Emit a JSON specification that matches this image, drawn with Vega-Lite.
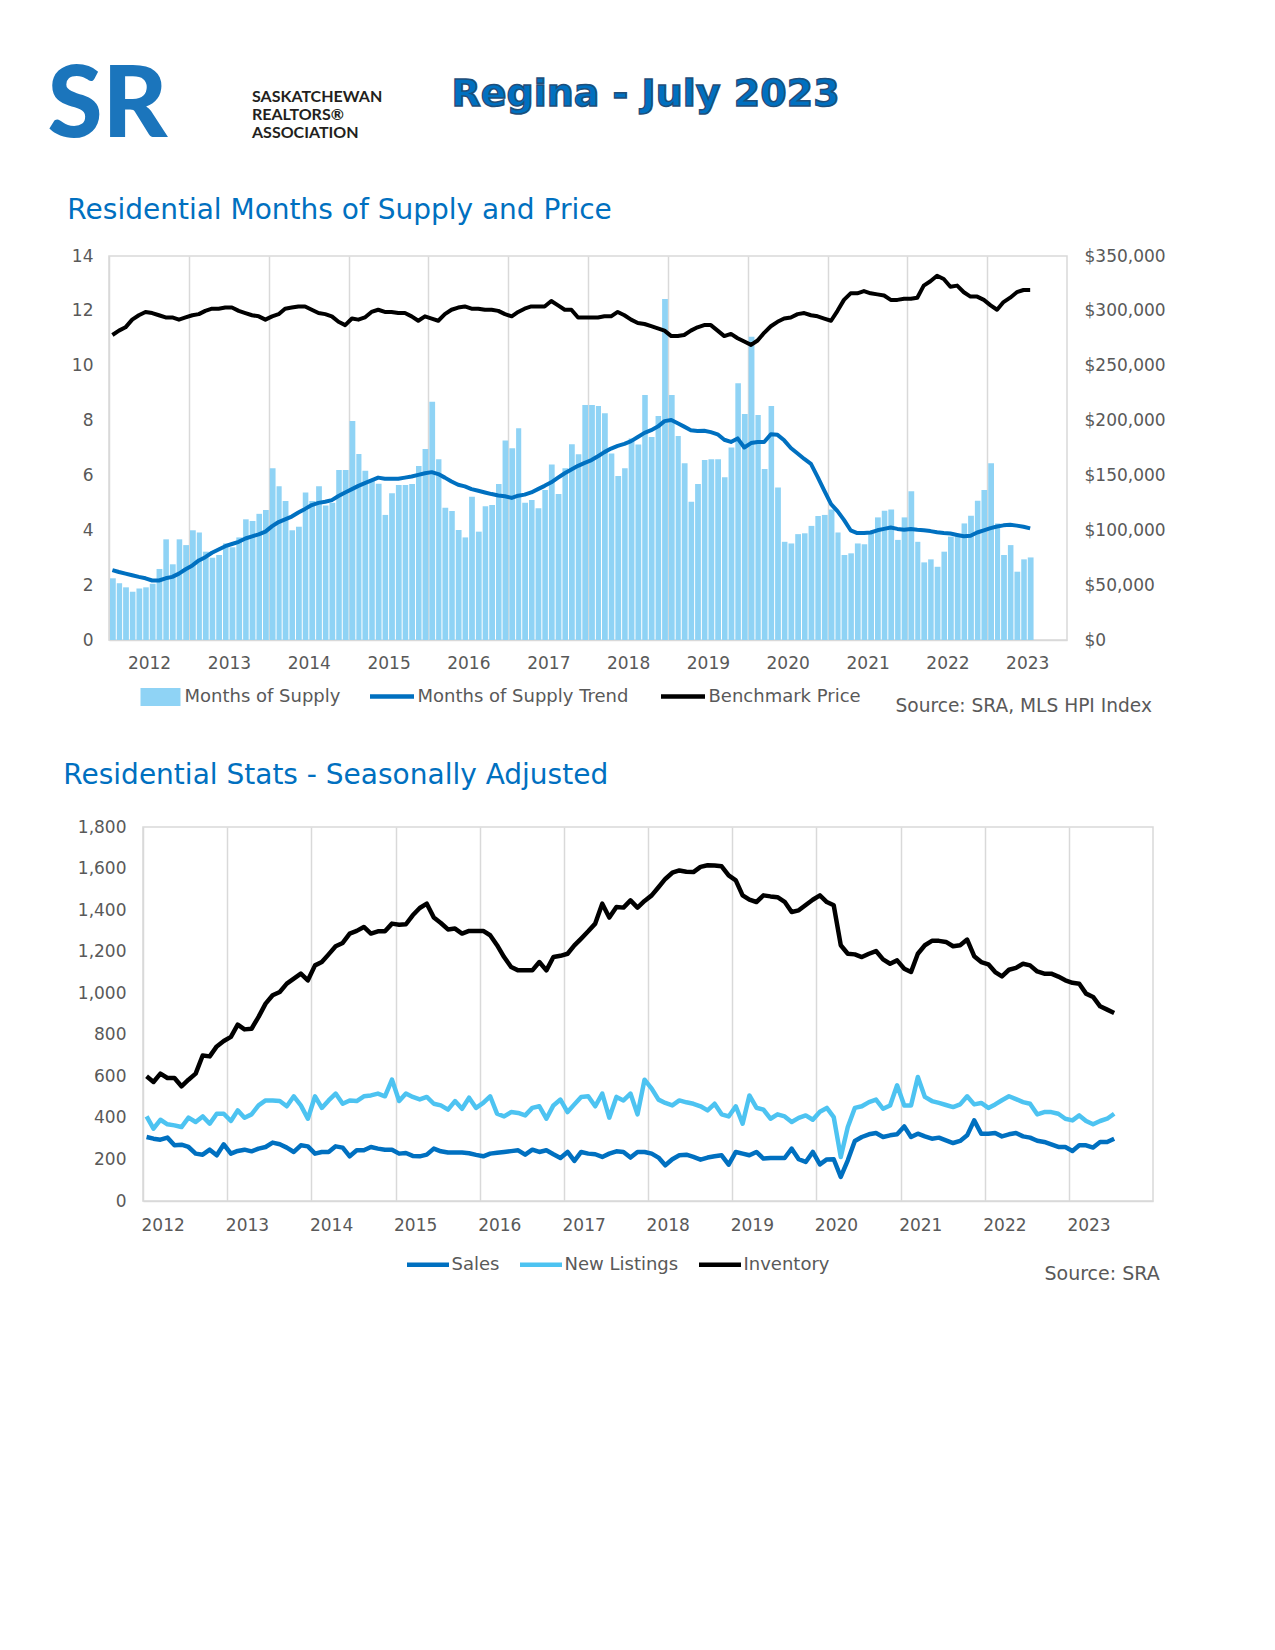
{
  "$schema": "https://vega.github.io/schema/vega-lite/v6.json",
  "background": "white",
  "padding": {"left": 47, "top": 55, "right": 5, "bottom": 5},
  "config": {
    "view": {"stroke": null},
    "font": "DejaVu Sans",
    "axis": {"labelFont": "DejaVu Sans", "labelFontSize": 17, "labelColor": "#595959", "ticks": false},
    "legend": {"labelFont": "DejaVu Sans", "titleFont": "DejaVu Sans", "labelFontSize": 18, "labelColor": "#595959", "labelLimit": 400, "titleLimit": 500}
  },
  "datasets": {
    "m": [
      {"d":"2012-01","ms":2.25,"tr":2.55,"bp":278000,"sa":308,"nl":407,"inv":600},
      {"d":"2012-02","ms":2.07,"tr":2.48,"bp":282000,"sa":300,"nl":348,"inv":573},
      {"d":"2012-03","ms":1.92,"tr":2.42,"bp":285000,"sa":295,"nl":391,"inv":613},
      {"d":"2012-04","ms":1.76,"tr":2.36,"bp":292000,"sa":305,"nl":369,"inv":592},
      {"d":"2012-05","ms":1.88,"tr":2.3,"bp":296000,"sa":268,"nl":364,"inv":592},
      {"d":"2012-06","ms":1.92,"tr":2.25,"bp":299000,"sa":271,"nl":356,"inv":552},
      {"d":"2012-07","ms":2.05,"tr":2.17,"bp":298000,"sa":260,"nl":401,"inv":584},
      {"d":"2012-08","ms":2.59,"tr":2.17,"bp":296000,"sa":228,"nl":380,"inv":613},
      {"d":"2012-09","ms":3.67,"tr":2.25,"bp":294000,"sa":223,"nl":407,"inv":700},
      {"d":"2012-10","ms":2.76,"tr":2.3,"bp":294000,"sa":247,"nl":372,"inv":696},
      {"d":"2012-11","ms":3.67,"tr":2.42,"bp":292000,"sa":220,"nl":420,"inv":744},
      {"d":"2012-12","ms":3.46,"tr":2.58,"bp":294000,"sa":273,"nl":420,"inv":770},
      {"d":"2013-01","ms":4.0,"tr":2.72,"bp":296000,"sa":228,"nl":385,"inv":790},
      {"d":"2013-02","ms":3.92,"tr":2.9,"bp":297000,"sa":241,"nl":436,"inv":849},
      {"d":"2013-03","ms":3.22,"tr":3.02,"bp":300000,"sa":247,"nl":401,"inv":826},
      {"d":"2013-04","ms":3.0,"tr":3.18,"bp":302000,"sa":239,"nl":417,"inv":829},
      {"d":"2013-05","ms":3.1,"tr":3.3,"bp":302000,"sa":252,"nl":460,"inv":886},
      {"d":"2013-06","ms":3.52,"tr":3.42,"bp":303000,"sa":260,"nl":484,"inv":950},
      {"d":"2013-07","ms":3.38,"tr":3.5,"bp":303000,"sa":281,"nl":484,"inv":990},
      {"d":"2013-08","ms":3.74,"tr":3.58,"bp":300000,"sa":273,"nl":481,"inv":1006},
      {"d":"2013-09","ms":4.4,"tr":3.7,"bp":298000,"sa":257,"nl":456,"inv":1046},
      {"d":"2013-10","ms":4.34,"tr":3.78,"bp":296000,"sa":236,"nl":504,"inv":1070},
      {"d":"2013-11","ms":4.6,"tr":3.85,"bp":295000,"sa":268,"nl":460,"inv":1094},
      {"d":"2013-12","ms":4.74,"tr":3.95,"bp":292000,"sa":263,"nl":396,"inv":1062},
      {"d":"2014-01","ms":6.26,"tr":4.15,"bp":295000,"sa":228,"nl":504,"inv":1134},
      {"d":"2014-02","ms":5.61,"tr":4.3,"bp":297000,"sa":236,"nl":448,"inv":1150},
      {"d":"2014-03","ms":5.07,"tr":4.4,"bp":302000,"sa":236,"nl":484,"inv":1187},
      {"d":"2014-04","ms":4.0,"tr":4.5,"bp":303000,"sa":263,"nl":517,"inv":1226},
      {"d":"2014-05","ms":4.13,"tr":4.65,"bp":304000,"sa":257,"nl":468,"inv":1242},
      {"d":"2014-06","ms":5.38,"tr":4.78,"bp":304000,"sa":215,"nl":484,"inv":1287},
      {"d":"2014-07","ms":5.07,"tr":4.92,"bp":301000,"sa":244,"nl":481,"inv":1300},
      {"d":"2014-08","ms":5.61,"tr":5.0,"bp":298000,"sa":244,"nl":504,"inv":1319},
      {"d":"2014-09","ms":4.9,"tr":5.04,"bp":297000,"sa":260,"nl":508,"inv":1287},
      {"d":"2014-10","ms":5.0,"tr":5.1,"bp":295000,"sa":252,"nl":517,"inv":1298},
      {"d":"2014-11","ms":6.2,"tr":5.25,"bp":290000,"sa":247,"nl":504,"inv":1298},
      {"d":"2014-12","ms":6.2,"tr":5.38,"bp":287000,"sa":247,"nl":584,"inv":1335},
      {"d":"2015-01","ms":7.98,"tr":5.5,"bp":293000,"sa":228,"nl":481,"inv":1330},
      {"d":"2015-02","ms":6.78,"tr":5.62,"bp":292000,"sa":231,"nl":517,"inv":1332},
      {"d":"2015-03","ms":6.17,"tr":5.72,"bp":294000,"sa":217,"nl":501,"inv":1375},
      {"d":"2015-04","ms":5.85,"tr":5.82,"bp":299000,"sa":215,"nl":489,"inv":1410},
      {"d":"2015-05","ms":5.7,"tr":5.92,"bp":301000,"sa":223,"nl":501,"inv":1431},
      {"d":"2015-06","ms":4.56,"tr":5.88,"bp":299000,"sa":252,"nl":468,"inv":1364},
      {"d":"2015-07","ms":5.35,"tr":5.88,"bp":299000,"sa":239,"nl":460,"inv":1338},
      {"d":"2015-08","ms":5.65,"tr":5.88,"bp":298000,"sa":233,"nl":440,"inv":1307},
      {"d":"2015-09","ms":5.65,"tr":5.92,"bp":298000,"sa":233,"nl":481,"inv":1311},
      {"d":"2015-10","ms":5.69,"tr":5.96,"bp":295000,"sa":233,"nl":444,"inv":1287},
      {"d":"2015-11","ms":6.34,"tr":6.02,"bp":291000,"sa":230,"nl":497,"inv":1300},
      {"d":"2015-12","ms":6.96,"tr":6.08,"bp":295000,"sa":222,"nl":448,"inv":1300},
      {"d":"2016-01","ms":8.69,"tr":6.12,"bp":293000,"sa":215,"nl":472,"inv":1300},
      {"d":"2016-02","ms":6.59,"tr":6.05,"bp":291000,"sa":228,"nl":504,"inv":1279},
      {"d":"2016-03","ms":4.82,"tr":5.92,"bp":297000,"sa":232,"nl":420,"inv":1231},
      {"d":"2016-04","ms":4.7,"tr":5.78,"bp":301000,"sa":236,"nl":407,"inv":1174},
      {"d":"2016-05","ms":4.01,"tr":5.66,"bp":303000,"sa":240,"nl":428,"inv":1126},
      {"d":"2016-06","ms":3.74,"tr":5.6,"bp":304000,"sa":244,"nl":424,"inv":1110},
      {"d":"2016-07","ms":5.22,"tr":5.5,"bp":302000,"sa":223,"nl":412,"inv":1110},
      {"d":"2016-08","ms":3.95,"tr":5.44,"bp":302000,"sa":247,"nl":448,"inv":1110},
      {"d":"2016-09","ms":4.88,"tr":5.38,"bp":301000,"sa":236,"nl":456,"inv":1150},
      {"d":"2016-10","ms":4.92,"tr":5.32,"bp":301000,"sa":244,"nl":396,"inv":1110},
      {"d":"2016-11","ms":5.69,"tr":5.27,"bp":300000,"sa":225,"nl":460,"inv":1174},
      {"d":"2016-12","ms":7.27,"tr":5.24,"bp":297000,"sa":207,"nl":488,"inv":1180},
      {"d":"2017-01","ms":6.99,"tr":5.18,"bp":295000,"sa":236,"nl":428,"inv":1190},
      {"d":"2017-02","ms":7.72,"tr":5.26,"bp":299000,"sa":193,"nl":465,"inv":1230},
      {"d":"2017-03","ms":5.0,"tr":5.3,"bp":302000,"sa":236,"nl":501,"inv":1263},
      {"d":"2017-04","ms":5.1,"tr":5.38,"bp":304000,"sa":228,"nl":504,"inv":1298},
      {"d":"2017-05","ms":4.8,"tr":5.5,"bp":304000,"sa":225,"nl":456,"inv":1335},
      {"d":"2017-06","ms":5.47,"tr":5.62,"bp":304000,"sa":212,"nl":517,"inv":1431},
      {"d":"2017-07","ms":6.4,"tr":5.75,"bp":309000,"sa":228,"nl":401,"inv":1364},
      {"d":"2017-08","ms":5.32,"tr":5.92,"bp":305000,"sa":239,"nl":501,"inv":1415},
      {"d":"2017-09","ms":6.26,"tr":6.08,"bp":301000,"sa":236,"nl":484,"inv":1412},
      {"d":"2017-10","ms":7.14,"tr":6.22,"bp":301000,"sa":209,"nl":517,"inv":1447},
      {"d":"2017-11","ms":6.77,"tr":6.35,"bp":294000,"sa":236,"nl":417,"inv":1412},
      {"d":"2017-12","ms":8.57,"tr":6.46,"bp":294000,"sa":236,"nl":584,"inv":1444},
      {"d":"2018-01","ms":8.57,"tr":6.56,"bp":294000,"sa":228,"nl":541,"inv":1471},
      {"d":"2018-02","ms":8.53,"tr":6.7,"bp":294000,"sa":209,"nl":488,"inv":1510},
      {"d":"2018-03","ms":8.27,"tr":6.85,"bp":295000,"sa":172,"nl":472,"inv":1550},
      {"d":"2018-04","ms":6.8,"tr":6.98,"bp":295000,"sa":201,"nl":460,"inv":1580},
      {"d":"2018-05","ms":5.98,"tr":7.08,"bp":299000,"sa":220,"nl":484,"inv":1591},
      {"d":"2018-06","ms":6.26,"tr":7.15,"bp":296000,"sa":223,"nl":475,"inv":1585},
      {"d":"2018-07","ms":7.35,"tr":7.25,"bp":292000,"sa":212,"nl":468,"inv":1583},
      {"d":"2018-08","ms":7.13,"tr":7.4,"bp":289000,"sa":199,"nl":456,"inv":1608},
      {"d":"2018-09","ms":8.93,"tr":7.55,"bp":288000,"sa":209,"nl":436,"inv":1616},
      {"d":"2018-10","ms":7.4,"tr":7.65,"bp":286000,"sa":215,"nl":468,"inv":1615},
      {"d":"2018-11","ms":8.17,"tr":7.78,"bp":284000,"sa":220,"nl":417,"inv":1611},
      {"d":"2018-12","ms":12.43,"tr":7.98,"bp":282000,"sa":175,"nl":407,"inv":1567},
      {"d":"2019-01","ms":8.93,"tr":8.02,"bp":277000,"sa":236,"nl":456,"inv":1543},
      {"d":"2019-02","ms":7.44,"tr":7.9,"bp":277000,"sa":228,"nl":372,"inv":1471},
      {"d":"2019-03","ms":6.44,"tr":7.78,"bp":278000,"sa":220,"nl":508,"inv":1450},
      {"d":"2019-04","ms":5.04,"tr":7.65,"bp":282000,"sa":236,"nl":449,"inv":1439},
      {"d":"2019-05","ms":5.69,"tr":7.62,"bp":285000,"sa":204,"nl":440,"inv":1471},
      {"d":"2019-06","ms":6.56,"tr":7.63,"bp":287000,"sa":207,"nl":396,"inv":1466},
      {"d":"2019-07","ms":6.59,"tr":7.58,"bp":287000,"sa":207,"nl":417,"inv":1462},
      {"d":"2019-08","ms":6.59,"tr":7.5,"bp":282000,"sa":207,"nl":407,"inv":1440},
      {"d":"2019-09","ms":5.93,"tr":7.3,"bp":277000,"sa":252,"nl":380,"inv":1391},
      {"d":"2019-10","ms":7.02,"tr":7.22,"bp":279000,"sa":201,"nl":400,"inv":1399},
      {"d":"2019-11","ms":9.36,"tr":7.35,"bp":275000,"sa":188,"nl":412,"inv":1425},
      {"d":"2019-12","ms":8.24,"tr":7.02,"bp":272000,"sa":236,"nl":391,"inv":1450},
      {"d":"2020-01","ms":11.06,"tr":7.18,"bp":269000,"sa":176,"nl":430,"inv":1471},
      {"d":"2020-02","ms":8.2,"tr":7.22,"bp":273000,"sa":200,"nl":448,"inv":1439},
      {"d":"2020-03","ms":6.23,"tr":7.22,"bp":280000,"sa":201,"nl":404,"inv":1423},
      {"d":"2020-04","ms":8.53,"tr":7.5,"bp":286000,"sa":116,"nl":212,"inv":1231},
      {"d":"2020-05","ms":5.56,"tr":7.48,"bp":290000,"sa":196,"nl":356,"inv":1190},
      {"d":"2020-06","ms":3.58,"tr":7.28,"bp":293000,"sa":289,"nl":448,"inv":1187},
      {"d":"2020-07","ms":3.52,"tr":7.0,"bp":294000,"sa":308,"nl":456,"inv":1174},
      {"d":"2020-08","ms":3.86,"tr":6.8,"bp":297000,"sa":321,"nl":476,"inv":1190},
      {"d":"2020-09","ms":3.89,"tr":6.6,"bp":298000,"sa":327,"nl":488,"inv":1203},
      {"d":"2020-10","ms":4.16,"tr":6.42,"bp":296000,"sa":308,"nl":444,"inv":1163},
      {"d":"2020-11","ms":4.52,"tr":5.95,"bp":295000,"sa":316,"nl":460,"inv":1142},
      {"d":"2020-12","ms":4.56,"tr":5.45,"bp":293000,"sa":321,"nl":557,"inv":1158},
      {"d":"2021-01","ms":4.76,"tr":4.95,"bp":291000,"sa":359,"nl":460,"inv":1118},
      {"d":"2021-02","ms":3.92,"tr":4.7,"bp":300000,"sa":308,"nl":460,"inv":1102},
      {"d":"2021-03","ms":3.1,"tr":4.38,"bp":310000,"sa":324,"nl":597,"inv":1190},
      {"d":"2021-04","ms":3.16,"tr":4.0,"bp":316000,"sa":311,"nl":501,"inv":1231},
      {"d":"2021-05","ms":3.52,"tr":3.9,"bp":316000,"sa":300,"nl":481,"inv":1252},
      {"d":"2021-06","ms":3.49,"tr":3.9,"bp":318000,"sa":305,"nl":472,"inv":1252},
      {"d":"2021-07","ms":3.89,"tr":3.92,"bp":316000,"sa":292,"nl":462,"inv":1247},
      {"d":"2021-08","ms":4.47,"tr":4.0,"bp":315000,"sa":279,"nl":452,"inv":1226},
      {"d":"2021-09","ms":4.71,"tr":4.05,"bp":314000,"sa":289,"nl":465,"inv":1231},
      {"d":"2021-10","ms":4.76,"tr":4.1,"bp":310000,"sa":316,"nl":504,"inv":1258},
      {"d":"2021-11","ms":3.65,"tr":4.05,"bp":310000,"sa":388,"nl":465,"inv":1178},
      {"d":"2021-12","ms":4.47,"tr":4.02,"bp":311000,"sa":324,"nl":472,"inv":1150},
      {"d":"2022-01","ms":5.42,"tr":4.05,"bp":311000,"sa":324,"nl":448,"inv":1139},
      {"d":"2022-02","ms":3.58,"tr":4.02,"bp":312000,"sa":327,"nl":465,"inv":1102},
      {"d":"2022-03","ms":2.83,"tr":4.0,"bp":323000,"sa":311,"nl":485,"inv":1081},
      {"d":"2022-04","ms":2.94,"tr":3.97,"bp":327000,"sa":321,"nl":504,"inv":1113},
      {"d":"2022-05","ms":2.67,"tr":3.93,"bp":332000,"sa":327,"nl":490,"inv":1122},
      {"d":"2022-06","ms":3.22,"tr":3.9,"bp":329000,"sa":311,"nl":476,"inv":1142},
      {"d":"2022-07","ms":3.77,"tr":3.88,"bp":322000,"sa":305,"nl":468,"inv":1134},
      {"d":"2022-08","ms":3.83,"tr":3.83,"bp":323000,"sa":290,"nl":417,"inv":1105},
      {"d":"2022-09","ms":4.25,"tr":3.78,"bp":317000,"sa":284,"nl":428,"inv":1094},
      {"d":"2022-10","ms":4.53,"tr":3.8,"bp":313000,"sa":272,"nl":428,"inv":1094},
      {"d":"2022-11","ms":5.08,"tr":3.92,"bp":313000,"sa":260,"nl":420,"inv":1080},
      {"d":"2022-12","ms":5.47,"tr":4.0,"bp":310000,"sa":260,"nl":396,"inv":1062},
      {"d":"2023-01","ms":6.44,"tr":4.08,"bp":305000,"sa":241,"nl":388,"inv":1050},
      {"d":"2023-02","ms":4.25,"tr":4.14,"bp":301000,"sa":268,"nl":412,"inv":1046},
      {"d":"2023-03","ms":3.1,"tr":4.18,"bp":308000,"sa":268,"nl":385,"inv":998},
      {"d":"2023-04","ms":3.46,"tr":4.2,"bp":312000,"sa":257,"nl":369,"inv":982},
      {"d":"2023-05","ms":2.49,"tr":4.17,"bp":317000,"sa":284,"nl":385,"inv":937},
      {"d":"2023-06","ms":2.94,"tr":4.13,"bp":319000,"sa":284,"nl":396,"inv":921},
      {"d":"2023-07","ms":3.01,"tr":4.07,"bp":319000,"sa":300,"nl":420,"inv":905}
    ]
  },
  "resolve": {"scale": {"color": "independent"}, "legend": {"color": "independent"}},
  "columns": 1,
  "spacing": 39,
  "concat": [
    {
      "spacing": 0,
      "hconcat": [
        {
          "width": 117, "height": 80,
          "data": {"values": [{"t": "SR"}]},
          "mark": {"type": "text", "font": "Lato", "fontWeight": 900, "fontSize": 100, "color": "#1B75BC", "baseline": "middle", "dy": 12},
          "encoding": {"text": {"field": "t", "type": "nominal"}}
        },
        {
          "width": 168, "height": 80,
          "data": {"values": [{"t": "SASKATCHEWAN|REALTORS®|ASSOCIATION"}]},
          "mark": {"type": "text", "font": "Lato", "fontWeight": 700, "fontSize": 16, "color": "#231F20", "align": "left", "baseline": "middle", "lineBreak": "|", "lineHeight": 18, "dy": 2},
          "encoding": {"text": {"field": "t", "type": "nominal"}}
        },
        {
          "width": 525, "height": 80,
          "data": {"values": [{"t": "Regina - July 2023"}]},
          "mark": {"type": "text", "font": "DejaVu Sans", "fontWeight": "bold", "fontSize": 38, "color": "#0070C0", "stroke": "#1F4E79", "strokeWidth": 1.5, "baseline": "middle"},
          "encoding": {"text": {"field": "t", "type": "nominal"}}
        }
      ]
    },
    {
      "columns": 1,
      "spacing": 44,
      "resolve": {"scale": {"color": "independent"}, "legend": {"color": "independent"}},
      "concat": [
        {
          "spacing": 16,
          "resolve": {"scale": {"color": "independent"}, "legend": {"color": "independent"}},
          "hconcat": [
            {"width": 1, "height": 1, "data": {"values": []}, "mark": "point"},
            {
              "width": 958, "height": 384,
              "view": {"stroke": "#D9D9D9", "strokeWidth": 1.5},
              "title": {"text": "Residential Months of Supply and Price", "anchor": "start", "dx": -4, "fontSize": 28, "fontWeight": "normal", "color": "#0070C0", "font": "DejaVu Sans", "offset": 22},
              "data": {"name": "m"},
              "layer": [
                {
                  "mark": {"type": "bar", "timeUnitBandSize": 0.68},
                  "encoding": {
                    "x": {"field": "d", "timeUnit": "utcyearmonth", "type": "temporal",
                      "scale": {"domain": [{"year": 2012, "month": 1, "date": 1, "utc": true}, {"year": 2024, "month": 1, "date": 1, "utc": true}], "padding": 0, "nice": false},
                      "axis": {"values": [{"year": 2012, "utc": true}, {"year": 2013, "utc": true}, {"year": 2014, "utc": true}, {"year": 2015, "utc": true}, {"year": 2016, "utc": true}, {"year": 2017, "utc": true}, {"year": 2018, "utc": true}, {"year": 2019, "utc": true}, {"year": 2020, "utc": true}, {"year": 2021, "utc": true}, {"year": 2022, "utc": true}, {"year": 2023, "utc": true}],
                        "labelExpr": "utcFormat(datum.value, '%Y')", "labelOffset": 40, "labelAlign": "center", "grid": true, "gridColor": "#D9D9D9", "gridWidth": 1.5, "domainColor": "#D9D9D9", "domainWidth": 1.5, "labelPadding": 15, "labelFlush": false, "labelOverlap": false, "title": null}},
                    "y": {"field": "ms", "type": "quantitative", "scale": {"domain": [0, 14], "nice": false},
                      "axis": {"orient": "left", "values": [0, 2, 4, 6, 8, 10, 12, 14], "grid": false, "domain": false, "labelPadding": 16, "title": null}},
                    "color": {"datum": "Months of Supply", "type": "nominal", "scale": {"range": ["#8FD3F5"]},
                      "legend": {"orient": "none", "legendX": 31.5, "legendY": 421, "title": null,
                        "symbolType": "M-1,-0.45H1V0.45H-1Z", "symbolSize": 1600, "symbolStrokeWidth": 0, "symbolOpacity": 1, "labelOffset": 4}}
                  }
                },
                {
                  "mark": {"type": "line", "strokeWidth": 4, "strokeJoin": "round"},
                  "encoding": {
                    "x": {"field": "d", "timeUnit": "utcyearmonth", "type": "temporal", "bandPosition": 0.5,
                      "scale": {"domain": [{"year": 2012, "month": 1, "date": 1, "utc": true}, {"year": 2024, "month": 1, "date": 1, "utc": true}], "padding": 0, "nice": false}},
                    "y": {"field": "tr", "type": "quantitative", "scale": {"domain": [0, 14], "nice": false}, "axis": null},
                    "color": {"datum": "Months of Supply Trend", "type": "nominal", "scale": {"range": ["#0070C0"]},
                      "legend": {"orient": "none", "legendX": 258.5, "legendY": 416, "title": null,
                        "symbolType": "stroke", "symbolSize": 1936, "symbolStrokeWidth": 4.5, "labelOffset": 1}}
                  }
                },
                {
                  "mark": {"type": "line", "strokeWidth": 4, "strokeJoin": "round"},
                  "encoding": {
                    "x": {"field": "d", "timeUnit": "utcyearmonth", "type": "temporal", "bandPosition": 0.5,
                      "scale": {"domain": [{"year": 2012, "month": 1, "date": 1, "utc": true}, {"year": 2024, "month": 1, "date": 1, "utc": true}], "padding": 0, "nice": false}},
                    "y": {"field": "bp", "type": "quantitative", "scale": {"domain": [0, 350000], "nice": false},
                      "axis": {"orient": "right", "values": [0, 50000, 100000, 150000, 200000, 250000, 300000, 350000], "format": "$,.0f", "grid": false, "domain": false, "labelPadding": 17, "title": null}},
                    "color": {"datum": "Benchmark Price", "type": "nominal", "scale": {"range": ["#000000"]},
                      "legend": {"orient": "none", "legendX": 549.5, "legendY": 416,
                        "symbolType": "stroke", "symbolSize": 1936, "symbolStrokeWidth": 4.5, "labelOffset": 1,
                        "title": "Source: SRA, MLS HPI Index", "titleOrient": "right", "titlePadding": 35, "titleAnchor": "end", "titleBaseline": "middle", "titleFontSize": 18.6, "titleFontWeight": "normal", "titleColor": "#595959"}}
                  }
                }
              ],
              "resolve": {"scale": {"y": "independent", "color": "independent"}, "legend": {"color": "independent"}}
            }
          ]
        },
        {
          "spacing": 12,
          "resolve": {"scale": {"color": "independent"}, "legend": {"color": "independent"}},
          "hconcat": [
            {"width": 1, "height": 1, "data": {"values": []}, "mark": "point"},
            {
              "width": 1010, "height": 374,
              "view": {"stroke": "#D9D9D9", "strokeWidth": 1.5},
              "title": {"text": "Residential Stats - Seasonally Adjusted", "anchor": "start", "dx": -14, "fontSize": 28, "fontWeight": "normal", "color": "#0070C0", "font": "DejaVu Sans", "offset": 28},
              "data": {"name": "m"},
              "encoding": {
                "x": {"field": "d", "timeUnit": "utcyearmonth", "type": "temporal", "bandPosition": 0.5,
                  "scale": {"domain": [{"year": 2012, "month": 1, "date": 1, "utc": true}, {"year": 2024, "month": 1, "date": 1, "utc": true}], "padding": 0, "nice": false},
                  "axis": {"values": [{"year": 2012, "utc": true}, {"year": 2013, "utc": true}, {"year": 2014, "utc": true}, {"year": 2015, "utc": true}, {"year": 2016, "utc": true}, {"year": 2017, "utc": true}, {"year": 2018, "utc": true}, {"year": 2019, "utc": true}, {"year": 2020, "utc": true}, {"year": 2021, "utc": true}, {"year": 2022, "utc": true}, {"year": 2023, "utc": true}],
                    "labelExpr": "utcFormat(datum.value, '%Y')", "labelAlign": "left", "labelOffset": -2, "grid": true, "gridColor": "#D9D9D9", "gridWidth": 1.5, "domainColor": "#D9D9D9", "domainWidth": 1.5, "labelPadding": 16, "labelFlush": false, "labelOverlap": false, "title": null}}
              },
              "layer": [
                {
                  "mark": {"type": "line", "strokeWidth": 4.5, "strokeJoin": "round"},
                  "encoding": {
                    "y": {"field": "sa", "type": "quantitative", "scale": {"domain": [0, 1800], "nice": false},
                      "axis": {"values": [0, 200, 400, 600, 800, 1000, 1200, 1400, 1600, 1800], "format": ",.0f", "grid": false, "domain": false, "labelPadding": 17, "title": null}},
                    "color": {"datum": "Sales", "type": "nominal",
                      "scale": {"domain": ["Sales", "New Listings", "Inventory"], "range": ["#0070C0", "#4DC3F1", "#000000"]},
                      "legend": {"orient": "none", "legendX": 261.5, "legendY": 414, "direction": "horizontal", "symbolType": "stroke", "symbolSize": 1764, "symbolStrokeWidth": 4.5,
                        "columnPadding": 11, "labelOffset": 0,
                        "title": "Source: SRA", "titleOrient": "right", "titlePadding": 215, "titleAnchor": "end", "titleBaseline": "middle", "titleFontSize": 19, "titleFontWeight": "normal", "titleColor": "#595959"}}
                  }
                },
                {
                  "mark": {"type": "line", "strokeWidth": 4.5, "strokeJoin": "round"},
                  "encoding": {
                    "y": {"field": "nl", "type": "quantitative", "scale": {"domain": [0, 1800], "nice": false},
                      "axis": {"values": [0, 200, 400, 600, 800, 1000, 1200, 1400, 1600, 1800], "format": ",.0f", "grid": false, "domain": false, "labelPadding": 17, "title": null}},
                    "color": {"datum": "New Listings", "type": "nominal"}
                  }
                },
                {
                  "mark": {"type": "line", "strokeWidth": 4.5, "strokeJoin": "round"},
                  "encoding": {
                    "y": {"field": "inv", "type": "quantitative", "scale": {"domain": [0, 1800], "nice": false},
                      "axis": {"values": [0, 200, 400, 600, 800, 1000, 1200, 1400, 1600, 1800], "format": ",.0f", "grid": false, "domain": false, "labelPadding": 17, "title": null}},
                    "color": {"datum": "Inventory", "type": "nominal"}
                  }
                }
              ]
            }
          ]
        }
      ]
    }
  ]
}
